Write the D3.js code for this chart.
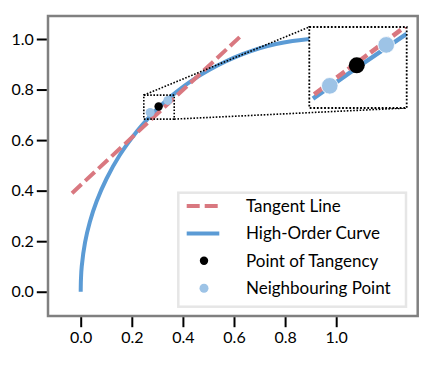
<!DOCTYPE html>
<html>
<head>
<meta charset="utf-8">
<script src="https://cdn.jsdelivr.net/npm/d3@7"></script>
<style>
    body { margin: 0; background: #fff; }
    svg { display: block; font-family: Lato, "Open Sans", sans-serif; }
</style>
</head>
<body>
<svg id="chart" width="439" height="365"></svg>
<script>
// values
const curveX = [0, 0.001, 0.004, 0.017, 0.036, 0.062, 0.101, 0.153, 0.218, 0.264, 0.305, 0.348, 0.374, 0.439, 0.504, 0.569, 0.634, 0.699, 0.764, 0.829, 0.887, 0.95, 1.0];
const curveY = [0, 0.05, 0.10, 0.195, 0.277, 0.357, 0.447, 0.541, 0.632, 0.686, 0.729, 0.768, 0.790, 0.838, 0.878, 0.912, 0.940, 0.963, 0.980, 0.992, 0.999, 1.004, 1.006];
const tangentX = [-0.034, 0.628];
const tangentY = [0.39, 1.013];
const tangencyX = [0.305];
const tangencyY = [0.733];
const neighbourX = [0.272, 0.341];
const neighbourY = [0.709, 0.757];

// zoomed region and what the inset shows
const zoomX = [0.247, 0.366];
const zoomY = [0.683, 0.778];
const insetCurveX = [0.2515, 0.3055, 0.366];
const insetCurveY = [0.694, 0.7305, 0.770];
const insetTangentX = [0.253, 0.366];
const insetTangentY = [0.699, 0.7797];

const xTicks = [0, 0.2, 0.4, 0.6, 0.8, 1.0];
const yTicks = [0, 0.2, 0.4, 0.6, 0.8, 1.0];
const legendLabels = ["Tangent Line", "High-Order Curve", "Point of Tangency", "Neighbouring Point"];

const red = "#d97880", blue = "#5b9bd5", lightBlue = "#9dc3e6";

let svg = d3.select("#chart");
let width = 439, height = 365;
let margin = { top: 16, bottom: 49, right: 21.3, left: 48 };
let innerWidth = width - margin.left - margin.right;
let innerHeight = height - margin.top - margin.bottom;

let xScale = d3.scaleLinear().domain([-0.128, 1.319]).range([0, innerWidth]);
let yScale = d3.scaleLinear().domain([-0.096, 1.091]).range([innerHeight, 0]);

let g = svg.append("g").attr("transform", `translate(${margin.left}, ${margin.top})`);

const zip = (xs, ys) => xs.map((x, i) => [x, ys[i]]);

//Main lines
let line = d3.line().x(d => xScale(d[0])).y(d => yScale(d[1]));

g.append("path")
    .datum(zip(curveX, curveY))
    .attr("d", line.curve(d3.curveCatmullRom.alpha(0.5)))
    .attr("fill", "none")
    .attr("stroke", blue)
    .attr("stroke-width", 4);

g.append("path")
    .datum(zip(tangentX, tangentY))
    .attr("d", d3.line().x(d => xScale(d[0])).y(d => yScale(d[1])))
    .attr("fill", "none")
    .attr("stroke", red)
    .attr("stroke-width", 4)
    .attr("stroke-dasharray", "13,5");

g.selectAll(".nb")
    .data(zip(neighbourX, neighbourY))
    .enter()
    .append("circle")
    .attr("cx", d => xScale(d[0]))
    .attr("cy", d => yScale(d[1]))
    .attr("r", 4.5)
    .attr("fill", lightBlue);

g.selectAll(".tp")
    .data(zip(tangencyX, tangencyY))
    .enter()
    .append("circle")
    .attr("cx", d => xScale(d[0]))
    .attr("cy", d => yScale(d[1]))
    .attr("r", 4.2)
    .attr("fill", "black");

//Zoom box and connectors
let dotted = sel => sel.attr("fill", "none").attr("stroke", "black")
    .attr("stroke-width", 1.6).attr("stroke-dasharray", "1.6,1.6");

let bx0 = xScale(zoomX[0]), bx1 = xScale(zoomX[1]);
let by0 = yScale(zoomY[0]), by1 = yScale(zoomY[1]);
g.append("rect")
    .attr("x", bx0).attr("y", by1)
    .attr("width", bx1 - bx0).attr("height", by0 - by1)
    .call(dotted);

let inset = { x: 309.3 - margin.left, y: 27 - margin.top, w: 97.4, h: 81 };

g.append("line")
    .attr("x1", bx0).attr("y1", by1)
    .attr("x2", inset.x).attr("y2", inset.y)
    .call(dotted);
g.append("line")
    .attr("x1", bx1).attr("y1", by0)
    .attr("x2", inset.x + inset.w).attr("y2", inset.y + inset.h)
    .call(dotted);

//Inset
let insetX = d3.scaleLinear().domain(zoomX).range([0, inset.w]);
let insetY = d3.scaleLinear().domain(zoomY).range([inset.h, 0]);
let insetG = g.append("g").attr("transform", `translate(${inset.x}, ${inset.y})`);

svg.append("clipPath").attr("id", "insetClip")
    .append("rect").attr("width", inset.w).attr("height", inset.h);

insetG.append("rect")
    .attr("width", inset.w).attr("height", inset.h)
    .attr("fill", "white");

let insetLine = d3.line().x(d => insetX(d[0])).y(d => insetY(d[1]));
let insetBody = insetG.append("g").attr("clip-path", "url(#insetClip)");

insetBody.append("path")
    .datum(zip(insetCurveX, insetCurveY))
    .attr("d", insetLine)
    .attr("fill", "none")
    .attr("stroke", blue)
    .attr("stroke-width", 4.5);

insetBody.append("path")
    .datum(zip(insetTangentX, insetTangentY))
    .attr("d", insetLine)
    .attr("fill", "none")
    .attr("stroke", red)
    .attr("stroke-width", 4.5)
    .attr("stroke-dasharray", "10,4");

insetBody.selectAll(".nb")
    .data(zip(neighbourX, neighbourY))
    .enter()
    .append("circle")
    .attr("cx", d => insetX(d[0]))
    .attr("cy", d => insetY(d[1]))
    .attr("r", 8.3)
    .attr("fill", lightBlue)
    .attr("stroke", "white")
    .attr("stroke-width", 0.8);

insetBody.selectAll(".tp")
    .data(zip(tangencyX, tangencyY))
    .enter()
    .append("circle")
    .attr("cx", d => insetX(d[0]))
    .attr("cy", d => insetY(d[1]))
    .attr("r", 8)
    .attr("fill", "black");

insetG.append("rect")
    .attr("width", inset.w).attr("height", inset.h)
    .call(dotted)
    .attr("stroke-width", 1.8)
    .attr("stroke-dasharray", "1.8,1.8");

//Legend
let legend = g.append("g").attr("transform", `translate(${178.3 - margin.left}, ${192.7 - margin.top})`);
legend.append("rect")
    .attr("width", 227.7).attr("height", 114)
    .attr("fill", "white")
    .attr("stroke", "#e6e6e6")
    .attr("stroke-width", 2.5);

let rows = legend.selectAll(".row")
    .data(legendLabels)
    .enter()
    .append("g")
    .attr("transform", (d, i) => `translate(0, ${13.3 + i * 27.4})`);

rows.append("text")
    .attr("x", 67.7)
    .attr("dy", "0.35em")
    .attr("font-size", 17)
    .attr("fill", "black")
    .text(d => d);

rows.filter((d, i) => i === 0).append("line")
    .attr("x1", 8.4).attr("x2", 41)
    .attr("stroke", red).attr("stroke-width", 4)
    .attr("stroke-dasharray", "13,5");
rows.filter((d, i) => i === 1).append("line")
    .attr("x1", 8.4).attr("x2", 41)
    .attr("stroke", blue).attr("stroke-width", 4);
rows.filter((d, i) => i === 2).append("circle")
    .attr("cx", 25.7).attr("r", 4.2).attr("fill", "black");
rows.filter((d, i) => i === 3).append("circle")
    .attr("cx", 25.7).attr("r", 4.5).attr("fill", lightBlue);

//Frame
g.append("rect")
    .attr("width", innerWidth).attr("height", innerHeight)
    .attr("fill", "none")
    .attr("stroke", "#808080")
    .attr("stroke-width", 2.5);

// X-Axis
let xAxis = g.append("g")
    .attr("transform", `translate(0, ${innerHeight + 1.2})`)
    .call(d3.axisBottom(xScale).tickValues(xTicks).tickFormat(d3.format(".1f")).tickSize(10).tickPadding(4));

// Y-axis
let yAxis = g.append("g")
    .attr("transform", `translate(-1.2, 0)`)
    .call(d3.axisLeft(yScale).tickValues(yTicks).tickFormat(d3.format(".1f")).tickSize(10).tickPadding(3));

[xAxis, yAxis].forEach(a => {
    a.select(".domain").remove();
    a.selectAll(".tick line").attr("stroke", "black").attr("stroke-width", 2);
    a.selectAll("text").attr("font-size", 16).attr("font-family", "Lato, sans-serif").attr("fill", "black");
});
</script>
</body>
</html>
